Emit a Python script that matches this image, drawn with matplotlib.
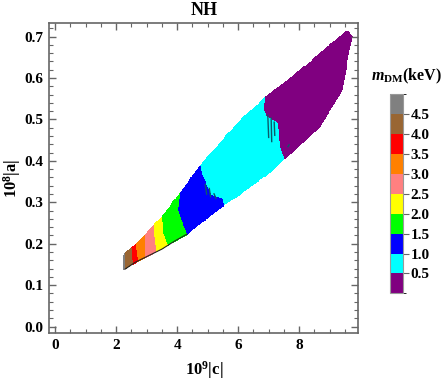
import numpy as np
import matplotlib
matplotlib.use("Agg")
import matplotlib.pyplot as plt
from matplotlib.colors import ListedColormap, BoundaryNorm
from matplotlib.path import Path


# -------- DATA --------
# allowed region in the (10^9|c|, 10^8|a|) plane, outline traced clockwise
outline_c = [2.22, 2.22, 2.30, 2.46, 2.79, 3.17, 3.50, 4.04, 4.75, 6.01, 6.89, 8.03,
             9.51, 9.62, 9.76, 9.64, 9.40, 8.66, 7.60, 6.89, 5.90, 5.25, 4.32, 3.93,
             3.50, 3.06, 2.62, 2.30]
outline_a = [0.137, 0.170, 0.180, 0.188, 0.210, 0.242, 0.267, 0.318, 0.390, 0.495, 0.555, 0.620,
             0.713, 0.714, 0.700, 0.660, 0.567, 0.479, 0.408, 0.362, 0.310, 0.276, 0.221, 0.205,
             0.185, 0.169, 0.153, 0.137]

# borders between m_DM bands, left to right, each as (c points, a points) top to bottom
band_borders = [
    ([2.30, 2.30], [0.185, 0.130]),
    ([2.49, 2.54], [0.195, 0.150]),
    ([2.64, 2.73], [0.205, 0.160]),
    ([2.93, 2.95], [0.230, 0.165]),
    ([3.22, 3.33], [0.252, 0.178]),
    ([3.50, 3.55, 3.72], [0.268, 0.225, 0.190]),
    ([4.10, 4.04, 4.21, 4.37], [0.325, 0.282, 0.241, 0.215]),
    ([4.75, 4.81, 4.92, 5.14, 5.46, 5.57], [0.392, 0.370, 0.350, 0.318, 0.310, 0.280]),
    ([6.89, 6.85, 6.94, 7.32, 7.38, 7.54], [0.560, 0.523, 0.507, 0.491, 0.434, 0.400]),
]

# m_DM of each band, left to right
band_m = [4.75, 4.25, 3.75, 3.25, 2.75, 2.25, 1.75, 1.25, 0.75, 0.25]

# thin dark streaks along the purple/cyan and cyan/blue borders
streaks = [
    ([6.97, 7.00], [0.512, 0.455]),
    ([7.08, 7.10], [0.505, 0.445]),
    ([7.18, 7.20], [0.495, 0.460]),
    ([4.92, 4.97], [0.345, 0.318]),
    ([5.05, 5.10], [0.335, 0.312]),
    ([5.20, 5.28], [0.322, 0.308]),
    ([7.62, 7.68], [0.433, 0.440]),
]

level_bounds = [0, 0.5, 1.0, 1.5, 2.0, 2.5, 3.0, 3.5, 4.0, 4.5, 5.0]
level_colors = ["#800080", "#00ffff", "#0000ff", "#00ff00", "#ffff00",
                "#ff8080", "#ff8000", "#ff0000", "#996633", "#808080"]
cbar_ticks = [0.5, 1.0, 1.5, 2.0, 2.5, 3.0, 3.5, 4.0, 4.5]

x_ticks = [0, 2, 4, 6, 8]
y_ticks = [0.0, 0.1, 0.2, 0.3, 0.4, 0.5, 0.6, 0.7]


# -------- STYLE --------
plt.rcParams["font.family"] = "Liberation Serif"
plt.rcParams["font.weight"] = "bold"
plt.rcParams["axes.labelweight"] = "bold"
plt.rcParams["axes.titleweight"] = "bold"
plt.rcParams["mathtext.fontset"] = "custom"
plt.rcParams["mathtext.rm"] = "Liberation Serif:bold"
plt.rcParams["mathtext.it"] = "Liberation Serif:italic:bold"
plt.rcParams["mathtext.bf"] = "Liberation Serif:bold"

FRAME = "#666666"


def band_field(cc, aa):
    region = Path(np.column_stack([outline_c, outline_a]))
    inside = region.contains_points(np.column_stack([cc.ravel(), aa.ravel()])).reshape(cc.shape)
    idx = np.zeros(cc.shape, dtype=int)
    for bc, ba in band_borders:
        # interp needs increasing a
        c_at = np.interp(aa, ba[::-1], bc[::-1])
        idx += (cc > c_at).astype(int)
    m = np.array(band_m)[idx]
    return np.ma.masked_where(~inside, m)


c_grid = np.linspace(-0.2, 10.0, 330)
a_grid = np.linspace(-0.02, 0.74, 330)
cc, aa = np.meshgrid(c_grid, a_grid)
field = band_field(cc, aa)

cmap = ListedColormap(level_colors)
norm = BoundaryNorm(level_bounds, cmap.N)

fig = plt.figure(figsize=(4.48, 3.83), dpi=100)
ax = fig.add_axes([0.110, 0.130, 0.690, 0.809])

mesh = ax.pcolormesh(c_grid, a_grid, field, cmap=cmap, norm=norm, shading="nearest")

for sc, sa in streaks:
    ax.plot(sc, sa, color="#0a5a6a", lw=1.0, solid_capstyle="butt")

# dark rim along the lower edge of the small-c bands
ax.plot(outline_c[-6:], [v + 0.002 for v in outline_a[-6:]], color="#222222", lw=0.8)

ax.set_xlim(-0.19, 9.94)
ax.set_ylim(-0.016, 0.732)
ax.set_xticks(x_ticks)
ax.set_yticks(y_ticks)
ax.set_xticklabels([str(t) for t in x_ticks])
ax.set_yticklabels(["%.1f" % t for t in y_ticks])
ax.set_xticks(np.arange(0, 10, 0.5), minor=True)
ax.set_yticks(np.arange(0, 0.73, 0.02), minor=True)
ax.tick_params(which="both", direction="in", top=True, right=True, color=FRAME,
               labelsize=11, pad=4)
ax.tick_params(which="major", length=5, width=1)
ax.tick_params(which="minor", length=3, width=0.8)
for sp in ax.spines.values():
    sp.set_color(FRAME)
    sp.set_linewidth(1.2)

ax.set_title("NH", fontsize=13, fontweight="bold", pad=6)
ax.set_xlabel(r"$10^9$|c|", fontsize=12, fontweight="bold", labelpad=5)
ax.set_ylabel(r"$10^8$|a|", fontsize=12, fontweight="bold", labelpad=1)

cax = fig.add_axes([0.8705, 0.234, 0.030, 0.520])
cb = fig.colorbar(mesh, cax=cax, ticks=cbar_ticks)
cb.ax.set_yticklabels(["%.1f" % t for t in cbar_ticks])
cb.ax.tick_params(direction="out", length=4, color=FRAME, labelsize=11, pad=1)
cb.outline.set_edgecolor("#999999")
fig.text(0.908, 0.800, r"$m_{\rm DM}$(keV)", fontsize=11.5, fontweight="bold",
         ha="center", va="center")

fig.savefig("out.png", dpi=100)
